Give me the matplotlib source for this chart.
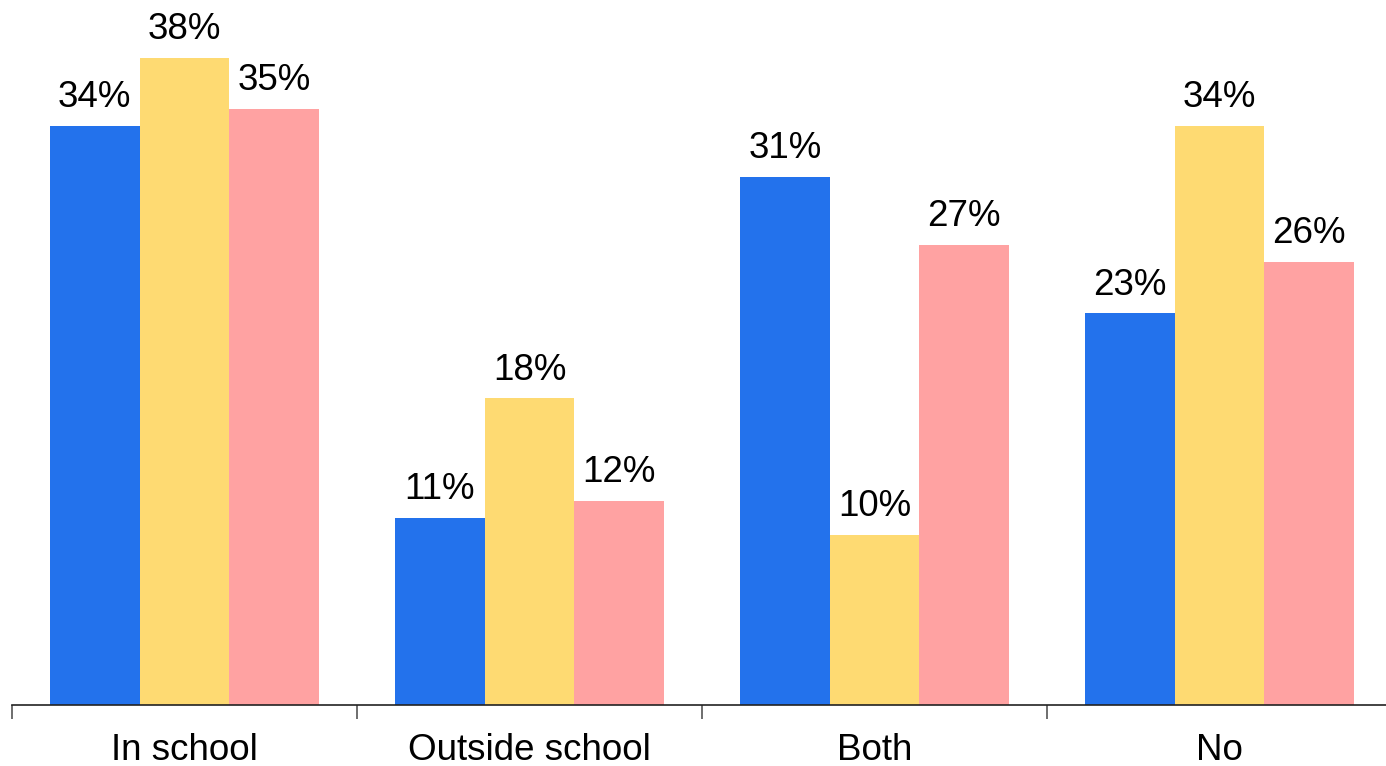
import matplotlib
matplotlib.use("Agg")
import matplotlib.pyplot as plt
import numpy as np

categories = ["In school", "Outside school", "Both", "No"]
series_a = [34, 11, 31, 23]
series_b = [38, 18, 10, 34]
series_c = [35, 12, 27, 26]
colors = ["#2372EC", "#FEDA72", "#FFA2A2"]

plt.rcParams['font.family'] = ['Liberation Sans', 'DejaVu Sans']
W, H = 1386, 766
fig = plt.figure(figsize=(W / 100, H / 100), dpi=100)
ax = fig.add_axes([12 / W, (H - 705) / H, 1380 / W, 705 / H])

x = np.arange(len(categories))
bw = 0.26
for i, (vals, c) in enumerate(zip([series_a, series_b, series_c], colors)):
    bars = ax.bar(x + (i - 1) * bw, vals, width=bw, color=c, edgecolor='none')
    for xi, v in zip(x + (i - 1) * bw, vals):
        ax.annotate(f"{v}%", (xi, v), xytext=(0, 13.5), textcoords='offset points',
                    ha='center', va='baseline', fontsize=26.5, color='black')

ax.set_xlim(-0.5, 3.5)
ax.set_ylim(0, 41.4)
ax.set_xticks(np.arange(-0.5, 4.0, 1.0), minor=False)
ax.set_xticklabels([])
ax.tick_params(axis='x', which='major', length=10, width=1.2, color='#555555')
ax.set_xticks(x, minor=True)
ax.set_xticklabels(categories, minor=True, fontsize=26.5)
ax.tick_params(axis='x', which='minor', length=0, pad=20)
ax.set_yticks([])
for s in ['top', 'right', 'left']:
    ax.spines[s].set_visible(False)
ax.spines['bottom'].set_color('#222222')
ax.spines['bottom'].set_linewidth(1.2)

fig.savefig("out.png", dpi=100)
